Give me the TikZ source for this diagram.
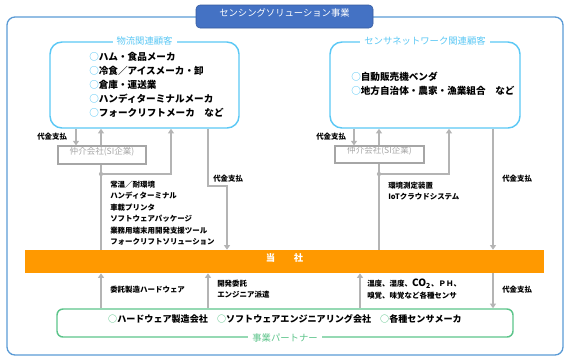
\documentclass[tikz,border=0pt]{standalone}
\usepackage{fontspec}
\setmainfont{Noto Sans CJK JP}
\usepackage{xcolor}
\usepackage{tikz}
\usetikzlibrary{positioning, calc, arrows.meta, fit}

\definecolor{framecol}{HTML}{5B9BD5}
\definecolor{titlecol}{HTML}{4472C4}
\definecolor{custcol}{HTML}{5BC8F5}
\definecolor{partcol}{HTML}{5CC48A}
\definecolor{barcol}{HTML}{FF9900}
\definecolor{flowcol}{HTML}{B4B4B4}
\definecolor{midcol}{HTML}{A6A6A6}

\newcommand{\custmark}{\textcolor{custcol}{○}}
\newcommand{\partmark}{\textcolor{partcol}{○}}

\begin{document}
\begin{tikzpicture}[x=0.75pt, y=-0.75pt,
        outerbox/.style={draw=framecol, line width=1pt, rounded corners=6pt, inner sep=0pt},
        titlebox/.style={draw=titlecol!80!black, fill=titlecol, rounded corners=3pt, inner sep=0pt,
            text=white, font=\fontsize{7}{7}\selectfont},
        custbox/.style={draw=custcol, line width=1.1pt, rounded corners=9pt, inner sep=0pt},
        partbox/.style={draw=partcol, line width=1.1pt, rounded corners=4.5pt, inner sep=0pt,
            font=\fontsize{6.8}{6.8}\selectfont\bfseries},
        boxtitle/.style={fill=white, inner sep=3pt, font=\fontsize{7}{7}\selectfont},
        custlist/.style={align=left, inner sep=0pt, font=\fontsize{7.2}{10.5}\selectfont\bfseries},
        midbox/.style={draw=midcol, line width=0.8pt, inner sep=0pt, text=midcol,
            font=\fontsize{6.4}{6.4}\selectfont},
        barbox/.style={fill=barcol, inner sep=0pt, text=white, font=\fontsize{7}{7}\selectfont\bfseries},
        notetext/.style={align=left, inner sep=0pt, font=\fontsize{5.6}{8.6}\selectfont\bfseries},
        flowline/.style={draw=flowcol, line width=1.1pt},
        flowarrow/.style={flowline, -{Triangle[width=4.5pt,length=3.5pt]}}
    ]
    \useasboundingbox (0,0) rectangle (571,362);

    % frame of the business
    \node[outerbox, fit={(7,17) (563,355)}] (biz) {};
    \node[titlebox, fit={(196,5) (373,28)}] (bizTitle) {センシングソリューション事業};

    % customers
    \node[custbox, fit={(50,42) (239,128)}] (custL) {};
    \node[boxtitle, text=custcol] (custLTitle) at (custL.north) {物流関連顧客};
    \node[custlist, anchor=west] (custLList) at (89,85)
        {\custmark ハム・食品メーカ\\
         \custmark 冷食／アイスメーカ・卸\\
         \custmark 倉庫・運送業\\
         \custmark ハンディターミナルメーカ\\
         \custmark フォークリフトメーカ　など};

    \node[custbox, fit={(330,42) (520,128)}] (custR) {};
    \node[boxtitle, text=custcol] (custRTitle) at (custR.north) {センサネットワーク関連顧客};
    \node[custlist, anchor=west] (custRList) at (351,84)
        {\custmark 自動販売機ベンダ\\
         \custmark 地方自治体・農家・漁業組合　など};

    % intermediaries
    \node[midbox, fit={(58,146) (146,164)}] (midL) {仲介会社(SI企業)};
    \node[midbox, fit={(335,146) (424,163)}] (midR) {仲介会社(SI企業)};

    % our company
    \node[barbox, fit={(25,250) (544,273)}] (us) {当　　社};

    % partners
    \node[partbox, fit={(57,309) (513,337)}] (partner)
        {\partmark ハードウェア製造会社　\partmark ソフトウェアエンジニアリング会社　\partmark 各種センサメーカ};
    \node[boxtitle, text=partcol] (partnerTitle) at (partner.south) {事業パートナー};

    % lanes
    \coordinate (payL) at (76,0);
    \coordinate (supL) at (101,0);
    \coordinate (brL) at (171,0);
    \coordinate (payL2) at (208,0);
    \coordinate (jogL) at (227,186);
    \coordinate (dotL) at (101,174);
    \coordinate (payR) at (354,0);
    \coordinate (supR) at (379,0);
    \coordinate (brR) at (449,0);
    \coordinate (payR2) at (493,0);
    \coordinate (dotR) at (379,174);
    \coordinate (hwL) at (101,0);
    \coordinate (engL) at (208,0);
    \coordinate (senR) at (360,0);

    % left side
    \draw[flowarrow] (custL.south -| payL) -- (midL.north -| payL);
    \draw[flowarrow] (midL.north -| supL) -- (custL.south -| supL);
    \draw[flowline] (us.north -| supL) -- (midL.south -| supL);
    \draw[flowarrow] (dotL) -| (custL.south -| brL);
    \fill[flowcol] (dotL) circle (1.6pt);
    \draw[flowarrow] (custL.south -| payL2) |- (jogL) -- (us.north -| jogL);

    % right side
    \draw[flowarrow] (custR.south -| payR) -- (midR.north -| payR);
    \draw[flowarrow] (midR.north -| supR) -- (custR.south -| supR);
    \draw[flowline] (us.north -| supR) -- (midR.south -| supR);
    \draw[flowarrow] (dotR) -| (custR.south -| brR);
    \fill[flowcol] (dotR) circle (1.6pt);
    \draw[flowarrow] (custR.south -| payR2) -- (us.north -| payR2);

    % partners to us
    \draw[flowarrow] (partner.north -| hwL) -- (us.south -| hwL);
    \draw[flowarrow] (partner.north -| engL) -- (us.south -| engL);
    \draw[flowarrow] (partner.north -| senR) -- (us.south -| senR);
    \draw[flowarrow] (us.south -| payR2) -- (partner.north -| payR2);

    % labels
    \node[notetext, anchor=west] (payLabA) at (37,137) {代金支払};
    \node[notetext, anchor=west] (payLabB) at (213,179) {代金支払};
    \node[notetext, anchor=west] (payLabC) at (316,137) {代金支払};
    \node[notetext, anchor=west] (payLabD) at (502,179) {代金支払};
    \node[notetext, anchor=west] (payLabE) at (502,290) {代金支払};
    \node[notetext, anchor=west] (goodsL) at (110,213)
        {常温／耐環境\\ハンディターミナル\\車載プリンタ\\ソフトウェアパッケージ\\業務用端末用開発支援ツール\\フォークリフトソリューション};
    \node[notetext, anchor=west] (goodsR) at (388,191) {環境測定装置\\IoTクラウドシステム};
    \node[notetext, anchor=west] (hwLab) at (110,290) {委託製造ハードウェア};
    \node[notetext, anchor=west] (engLab) at (217,289) {開発委託\\エンジニア派遣};
    \node[notetext, anchor=west] (senLab) at (367,289)
        {温度、湿度、{\fontsize{7.5}{7.5}\selectfont CO\textsubscript{2}}、ＰＨ、\\嗅覚、味覚など各種センサ};
\end{tikzpicture}
\end{document}
